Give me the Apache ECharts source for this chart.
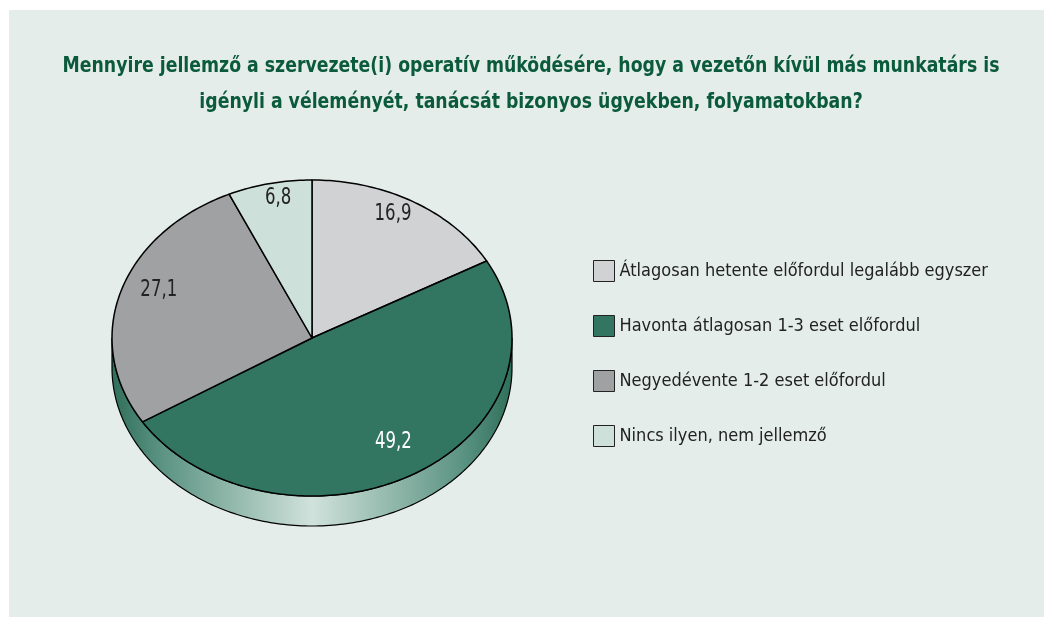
<!DOCTYPE html>
<html>
<head>
<meta charset="utf-8">
<script src="https://cdn.jsdelivr.net/npm/echarts@6/dist/echarts.min.js"></script>
<style>
html, body { margin: 0; padding: 0; background: #fff; }
#chart { width: 1044px; height: 617px; }
</style>
</head>
<body>
<div id="chart"></div>
<script>
var titleLines = [
	'Mennyire jellemző a szervezete(i) operatív működésére, hogy a vezetőn kívül más munkatárs is',
	'igényli a véleményét, tanácsát bizonyos ügyekben, folyamatokban?'
];
var categories = [
	'Átlagosan hetente előfordul legalább egyszer',
	'Havonta átlagosan 1-3 eset előfordul',
	'Negyedévente 1-2 eset előfordul',
	'Nincs ilyen, nem jellemző'
];
var values = [16.9, 49.2, 27.1, 6.8];
var colors = ['#d1d2d4', '#327561', '#a0a1a3', '#cde0da'];
var labelColors = ['#222', '#fff', '#222', '#222'];

var font = "'DejaVu Sans Condensed', 'Liberation Sans Narrow', 'Arial Narrow', sans-serif";
// geometry of the tilted pie
var cx = 312, cy = 338, rx = 200, ry = 158, depth = 30;

var total = 0;
for (var i = 0; i < values.length; i++) total += values[i];

function pt(deg, dy) {
	var rad = deg * Math.PI / 180;
	return [cx + rx * Math.sin(rad), cy - ry * Math.cos(rad) + (dy || 0)];
}

function startAngle(idx) {
	var s = 0;
	for (var k = 0; k < idx; k++) s += values[k];
	return s / total * 360;
}

function sideItem(params, api) {
	var points = [];
	for (var a = 90; a <= 270; a += 1) points.push(pt(a, 0));
	for (var b = 270; b >= 90; b -= 1) points.push(pt(b, depth));
	return {
		type: 'polygon',
		z2: 0,
		shape: { points: points },
		style: {
			fill: new echarts.graphic.LinearGradient(cx - rx, 0, cx + rx, 0, [
				{ offset: 0, color: '#2f6f5a' },
				{ offset: 0.12, color: '#5a9281' },
				{ offset: 0.5, color: '#d0e2db' },
				{ offset: 0.88, color: '#5a9281' },
				{ offset: 1, color: '#2f6f5a' }
			], true),
			stroke: '#000',
			lineWidth: 1.2
		}
	};
}

function makeTop(idx) {
	return function (params, api) {
		var v = api.value(0);
		var a1 = startAngle(idx);
		var a2 = a1 + v / total * 360;
		var points = [[cx, cy]];
		for (var a = a1; a < a2; a += 1) points.push(pt(a, 0));
		points.push(pt(a2, 0));
		var mid = (a1 + a2) / 2;
		var lp = pt(mid, 0);
		var lx = cx + (lp[0] - cx) * 0.8;
		var ly = cy + (lp[1] - cy) * 0.84 - 10;
		return {
			type: 'group',
			children: [{
				type: 'polygon',
				z2: 10,
				shape: { points: points },
				style: { fill: colors[idx], stroke: '#000', lineWidth: 1.5, lineJoin: 'round' }
			}, {
				type: 'text',
				z2: 20,
				x: lx,
				y: ly,
				scaleX: 0.8,
				style: {
					text: String(v).replace('.', ','),
					fill: labelColors[idx],
					font: '23px ' + font,
					align: 'center',
					verticalAlign: 'middle'
				}
			}]
		};
	};
}

var series = [{
	name: 'side',
	type: 'custom',
	coordinateSystem: 'none',
	silent: true,
	z: 1,
	data: [[total]],
	renderItem: sideItem
}];
for (var j = 0; j < values.length; j++) {
	series.push({
		name: categories[j],
		type: 'custom',
		coordinateSystem: 'none',
		silent: true,
		z: 2,
		itemStyle: { color: colors[j] },
		data: [[values[j]]],
		renderItem: makeTop(j)
	});
}

var titleGraphics = [];
for (var t = 0; t < titleLines.length; t++) {
	titleGraphics.push({
		type: 'text',
		silent: true,
		x: 531,
		y: 66 + t * 36,
		scaleX: 0.875,
		style: {
			text: titleLines[t],
			font: 'bold 22px ' + font,
			fill: '#0b5a3c',
			align: 'center',
			verticalAlign: 'middle'
		}
	});
}

var chart = echarts.init(document.getElementById('chart'));
chart.setOption({
	animation: false,
	backgroundColor: '#fff',
	graphic: [{
		type: 'rect',
		silent: true,
		z: -10,
		shape: { x: 9, y: 10, width: 1035, height: 607 },
		style: { fill: '#e4edea' }
	}].concat(titleGraphics),
	legend: {
		data: categories,
		orient: 'vertical',
		left: 593,
		top: 260,
		padding: 0,
		itemWidth: 21,
		itemHeight: 21,
		itemGap: 33,
		icon: 'rect',
		selectedMode: false,
		itemStyle: { borderColor: '#222', borderWidth: 1 },
		textStyle: { fontFamily: font, fontSize: 18, color: '#222' }
	},
	series: series
});
</script>
</body>
</html>
